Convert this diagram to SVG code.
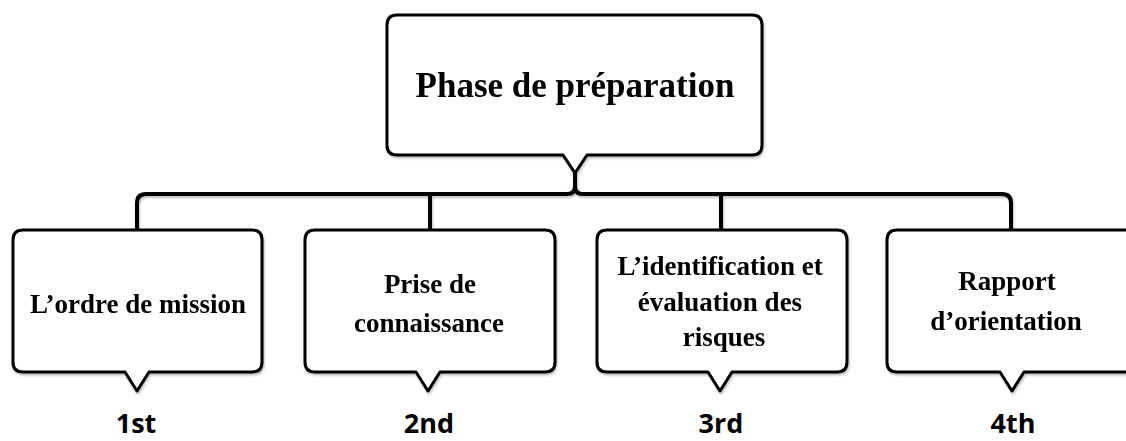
<svg xmlns="http://www.w3.org/2000/svg" width="1126" height="441" viewBox="0 0 1126 441">
  <style>
    .bubble { fill: #ffffff; stroke: #000000; stroke-width: 3; stroke-linejoin: round; }
    .link { fill: none; stroke: #000000; stroke-width: 4; stroke-linejoin: round; }
    .title { font-family: "Liberation Serif", "Times New Roman", serif; font-weight: bold; font-size: 35px; fill: #000; text-anchor: middle; }
    .label { font-family: "Liberation Serif", "Times New Roman", serif; font-weight: bold; font-size: 27px; fill: #000; text-anchor: middle; }
    .rank { font-family: "Open Sans", "Liberation Sans", sans-serif; font-weight: bold; font-size: 27px; fill: #000; text-anchor: middle; }
  </style>
  <defs>
    <filter id="soft" x="-5%" y="-10%" width="110%" height="130%">
      <feDropShadow dx="1" dy="2" stdDeviation="1.2" flood-color="#000" flood-opacity="0.25"/>
    </filter>
  </defs>
  <rect width="1126" height="441" fill="#ffffff"/>

  <!-- connectors: brace from the phase bubble to the four steps -->
  <g id="connectors" filter="url(#soft)">
    <path class="link" d="M137,230 V203 Q137,194 146,194 H567 Q575,194 575,186 V172 M575,186 Q575,194 583,194 H1002 Q1011,194 1011,203 V230"/>
    <path class="link" d="M430,194 V230"/>
    <path class="link" d="M721,194 V230"/>
  </g>

  <!-- phase bubble -->
  <g id="phase" filter="url(#soft)">
    <path class="bubble" d="M397,15 H752 Q762,15 762,25 V145 Q762,155 752,155 H587 L575,173 L563,155 H397 Q387,155 387,145 V25 Q387,15 397,15 Z"/>
    <text class="title" x="575" y="97">Phase de préparation</text>
  </g>

  <!-- step 1 -->
  <g id="step1" filter="url(#soft)">
    <path class="bubble" d="M23,230 H252 Q262,230 262,240 V362 Q262,372 252,372 H149 L137,391 L125,372 H23 Q13,372 13,362 V240 Q13,230 23,230 Z"/>
    <text class="label" x="138" y="313">L’ordre de mission</text>
  </g>
  <text id="rank1" class="rank" x="136" y="433">1st</text>

  <!-- step 2 -->
  <g id="step2" filter="url(#soft)">
    <path class="bubble" d="M315,230 H545 Q555,230 555,240 V362 Q555,372 545,372 H440 L428,391 L416,372 H315 Q305,372 305,362 V240 Q305,230 315,230 Z"/>
    <text class="label" x="430" y="293">Prise de</text>
    <text class="label" x="429" y="332">connaissance</text>
  </g>
  <text id="rank2" class="rank" x="429" y="433">2nd</text>

  <!-- step 3 -->
  <g id="step3" filter="url(#soft)">
    <path class="bubble" d="M607,230 H837 Q847,230 847,240 V362 Q847,372 837,372 H732 L720,391 L708,372 H607 Q597,372 597,362 V240 Q597,230 607,230 Z"/>
    <text class="label" x="720" y="275">L’identification et</text>
    <text class="label" x="720" y="311">évaluation des</text>
    <text class="label" x="724" y="346">risques</text>
  </g>
  <text id="rank3" class="rank" x="721" y="433">3rd</text>

  <!-- step 4 (runs past the right edge) -->
  <g id="step4" filter="url(#soft)">
    <path class="bubble" d="M897,230 H1140 Q1150,230 1150,240 V362 Q1150,372 1140,372 H1024 L1012,391 L1000,372 H897 Q887,372 887,362 V240 Q887,230 897,230 Z"/>
    <text class="label" x="1007" y="290">Rapport</text>
    <text class="label" x="1006" y="330">d’orientation</text>
  </g>
  <text id="rank4" class="rank" x="1013" y="433">4th</text>
</svg>
